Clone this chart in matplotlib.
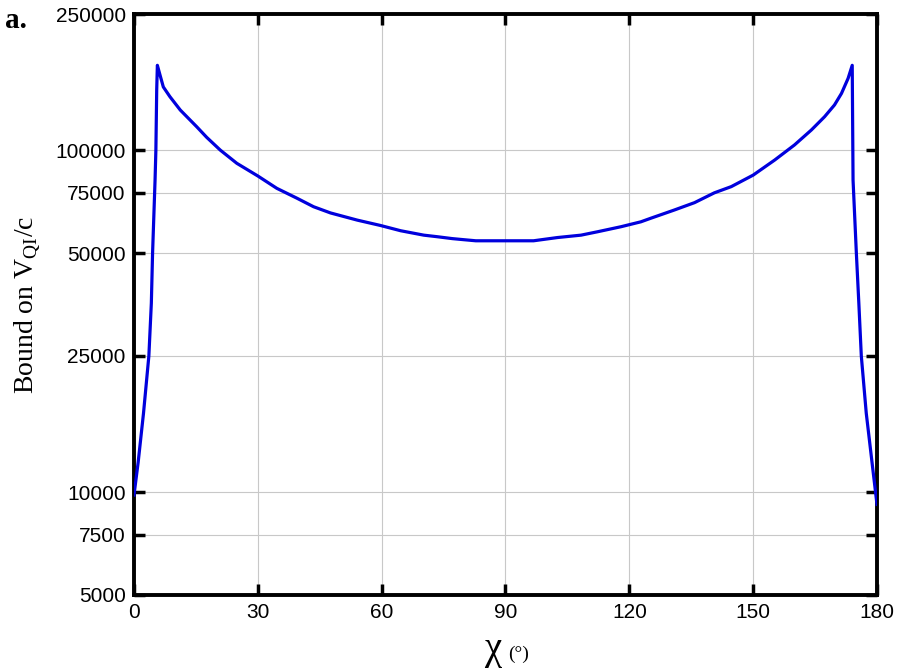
import matplotlib
matplotlib.use("Agg")
import matplotlib.pyplot as plt
from matplotlib.ticker import FixedLocator, FixedFormatter, NullLocator

# values
chi = [0, 1.0, 2.3, 3.6, 4.2, 4.5, 5.1, 5.3, 5.5, 5.66, 6.3, 7.1, 8.7, 11.2,
       12.8, 15.2, 17.6, 20.9, 24.9, 30, 34.6, 39.5, 43.5, 47.6, 54.1, 59.7,
       64.6, 70.2, 73.5, 77.1, 79.9, 82.8, 90, 96.8, 102.6, 108.3, 112.3, 118,
       122.8, 125.2, 130.9, 135.8, 140.6, 144.7, 150, 155.2, 160, 164.1, 167.3,
       169.7, 171.4, 173.0, 174.0, 174.2, 175.0, 175.6, 176.2, 177.4, 178.8, 180]
bound = [9800, 12200, 17000, 25000, 35700, 50000, 81700, 100000, 150000, 177000,
         165800, 153000, 143300, 131000, 125200, 117000, 109000, 100000, 91500,
         84000, 77300, 72300, 68300, 65500, 62400, 60200, 58100, 56400, 55800,
         55100, 54700, 54300, 54300, 54300, 55500, 56400, 57700, 59700, 61700,
         63200, 66800, 70200, 75000, 78200, 84500, 93500, 103500, 114500, 125200,
         135500, 146500, 162100, 177000, 81700, 50000, 35700, 25000, 17000, 12200,
         9200]

x_ticks = [0, 30, 60, 90, 120, 150, 180]
y_ticks = [5000, 7500, 10000, 25000, 50000, 75000, 100000, 250000]
y_labels = ["5000", "7500", "10000", "25000", "50000", "75000", "100000", "250000"]

plt.rcParams['font.family'] = ['Liberation Sans', 'DejaVu Sans']
plt.rcParams['mathtext.fontset'] = 'custom'
plt.rcParams['mathtext.rm'] = 'Liberation Serif'

fig = plt.figure(figsize=(9.03, 6.71), dpi=100)
ax = fig.add_axes([0.1484, 0.1133, 0.8228, 0.8658])

ax.plot(chi, bound, color='#0000dd', linewidth=2.3, zorder=3)

ax.set_yscale('log')
ax.set_xlim(0, 180)
ax.set_ylim(5000, 250000)
ax.xaxis.set_major_locator(FixedLocator(x_ticks))
ax.yaxis.set_major_locator(FixedLocator(y_ticks))
ax.yaxis.set_major_formatter(FixedFormatter(y_labels))
ax.yaxis.set_minor_locator(NullLocator())

ax.grid(True, color='#c8c8c8', linewidth=0.8)
ax.tick_params(direction='in', length=8, width=2.5, labelsize=15,
               top=True, right=True, pad=6)
for s in ax.spines.values():
    s.set_linewidth(2.8)

ax.set_ylabel(r'Bound on V$_{\rm QI}$/c', family='Liberation Serif',
              fontsize=20, labelpad=8)

# x label: large chi, smaller degree sign
fig.text(0.546, 0.018, 'χ', family='Liberation Serif', fontsize=28,
         ha='center', va='baseline')
fig.text(0.563, 0.018, '(°)', family='Liberation Serif', fontsize=14,
         ha='left', va='baseline')
fig.text(0.006, 0.958, 'a.', family='Liberation Serif', fontweight='bold',
         fontsize=21)

fig.savefig('out.png', dpi=100)
